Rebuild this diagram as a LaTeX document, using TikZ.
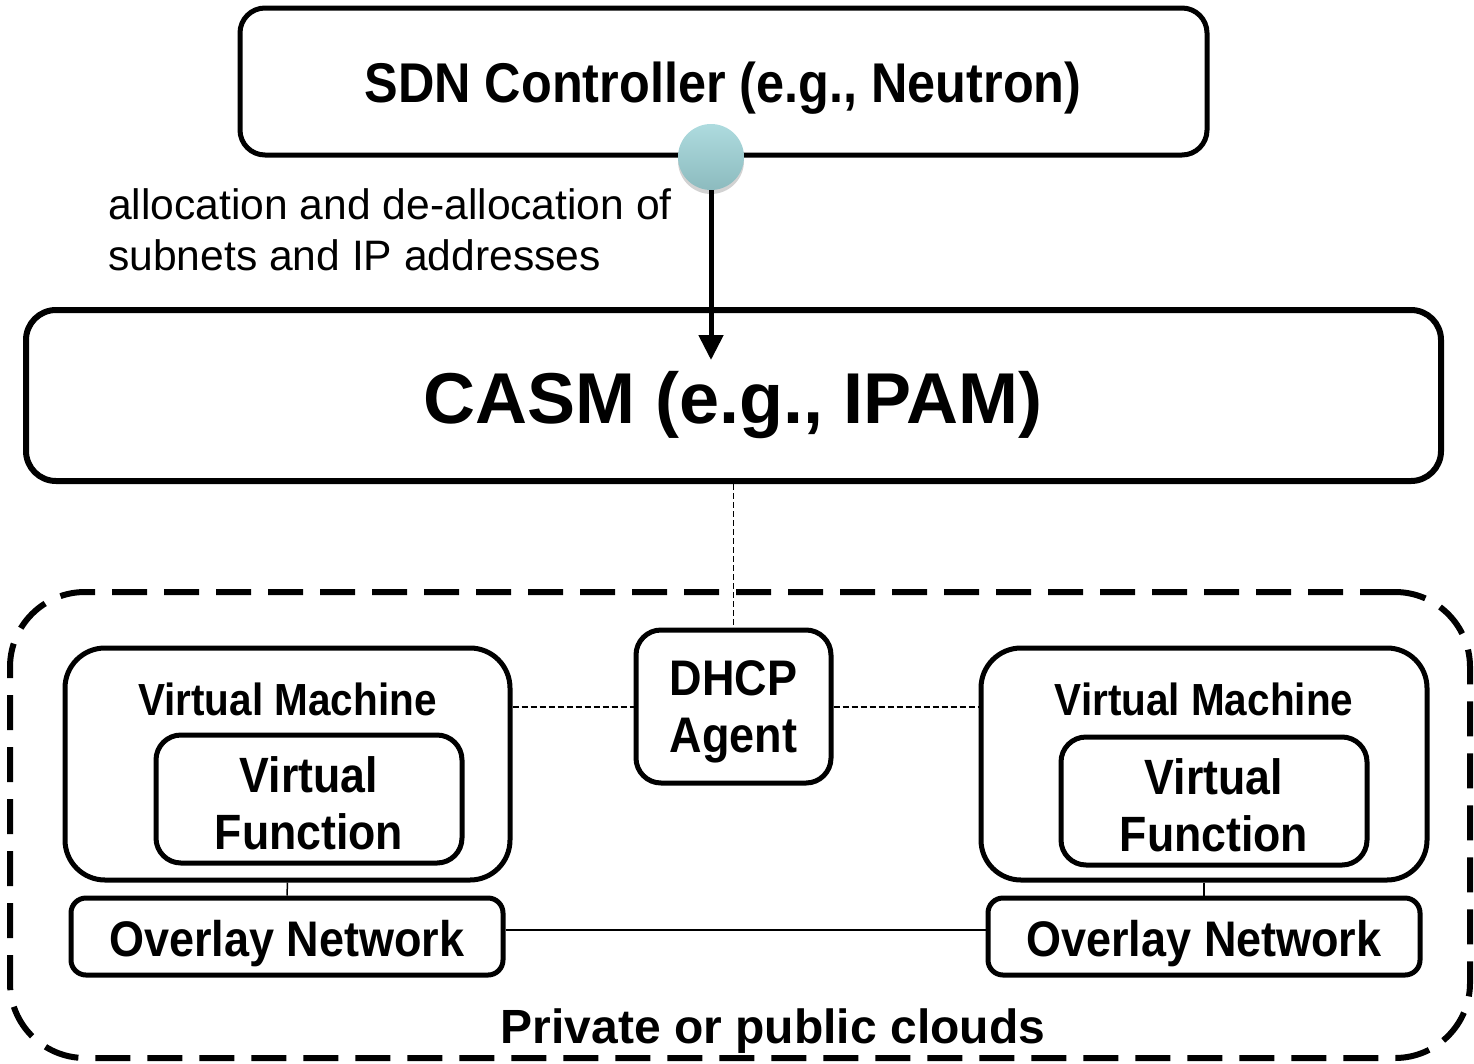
\documentclass[tikz,border=0pt]{standalone}
\usepackage{fontspec}
\setmainfont{Liberation Sans}
\newfontfamily\robo[FakeStretch=0.9]{Liberation Sans}
\usetikzlibrary{arrows.meta,shadows}
\definecolor{tealtop}{HTML}{AEDBDF}
\definecolor{tealbot}{HTML}{8CBBBE}
\begin{document}
\begin{tikzpicture}[x=1pt,y=-1pt,
  box/.style={draw,line width=5pt,rounded corners=#1,inner sep=0pt,align=center},
  box/.default=25pt,
  thin/.style={line width=1.5pt},
  thindash/.style={line width=1.5pt,dash pattern=on 6pt off 3pt},
  rb/.style={font=\robo\bfseries\fontsize{#1}{57}\selectfont},
]
\useasboundingbox (0,0) rectangle (1474,1063);
% SDN controller
\node[box,minimum width=967pt,minimum height=147pt] (sdn) at (723.5,81.5) {};
\node[rb=56] (sdnt) at (723,88) {SDN Controller (e.g., Neutron)};
% CASM
\node[box=30pt,line width=6pt,minimum width=1415pt,minimum height=171pt] (casm) at (733.5,395.5) {};
\node[font=\bfseries\fontsize{72}{72}\selectfont] (casmt) at (733,405) {CASM (e.g., IPAM)};
% cloud
\node[draw,line width=6pt,dash pattern=on 35pt off 17pt,rounded corners=75pt,minimum width=1460pt,minimum height=466pt,inner sep=0pt] (cloud) at (740,825) {};
\node[font=\bfseries\fontsize{48}{48}\selectfont] (cloudt) at (773,1031) {Private or public clouds};
% DHCP
\node[box,minimum width=195pt,minimum height=153pt] (dhcp) at (733.5,706.5) {};
\node[rb=50,align=center] (dhcpt) at (733.5,712) {DHCP\\Agent};
% left VM
\node[box=40pt,minimum width=445pt,minimum height=232pt] (vmL) at (287.5,764) {};
\node[rb=45] (vmLt) at (287.5,699) {Virtual Machine};
\node[box,minimum width=306pt,minimum height=128pt] (vfL) at (309,799) {};
\node[rb=49.6,align=center] (vfLt) at (309,803) {Virtual\\Function};
\node[box=15pt,minimum width=432pt,minimum height=77pt] (ovL) at (287,936.5) {};
\node[rb=50] (ovLt) at (287,944) {Overlay Network};
% right VM
\node[box=40pt,minimum width=446pt,minimum height=232pt] (vmR) at (1204,764) {};
\node[rb=45] (vmRt) at (1204,699) {Virtual Machine};
\node[box,minimum width=306pt,minimum height=128pt] (vfR) at (1214,801) {};
\node[rb=49.6,align=center] (vfRt) at (1214,805) {Virtual\\Function};
\node[box=15pt,minimum width=432pt,minimum height=77pt] (ovR) at (1204,936.5) {};
\node[rb=50] (ovRt) at (1204,944) {Overlay Network};
% connectors
\draw[thindash] (casm.south -| dhcp) -- (dhcp.north);
\draw[thindash] (vmL.east |- 0,707) coordinate (a1) -- (dhcp.west |- a1);
\draw[thindash] (dhcp.east |- 0,707) coordinate (a2) -- (vmR.west |- a2);
\draw[thin] (vmL.south) -- (ovL.north);
\draw[thin] (vmR.south) -- (ovR.north);
\draw[thin] (ovL.east |- 0,930) coordinate (a3) -- (ovR.west |- a3);
% label
\node[anchor=west,align=left,font=\fontsize{42.6}{51}\selectfont,inner sep=0pt] (lbl) at (108,230) {allocation and de-allocation of\\subnets and IP addresses};
% arrow
\node[circle,minimum size=66pt,inner sep=0pt,top color=tealtop,bottom color=tealbot,drop shadow={shadow xshift=0pt,shadow yshift=-4pt,fill=black!25,opacity=0.7}] (circ) at (711,157) {};
\coordinate (aend) at (711,360);
\draw[line width=5pt,-{Triangle[length=25pt,width=24pt]}] (circ.south) -- (aend);
\end{tikzpicture}
\end{document}
